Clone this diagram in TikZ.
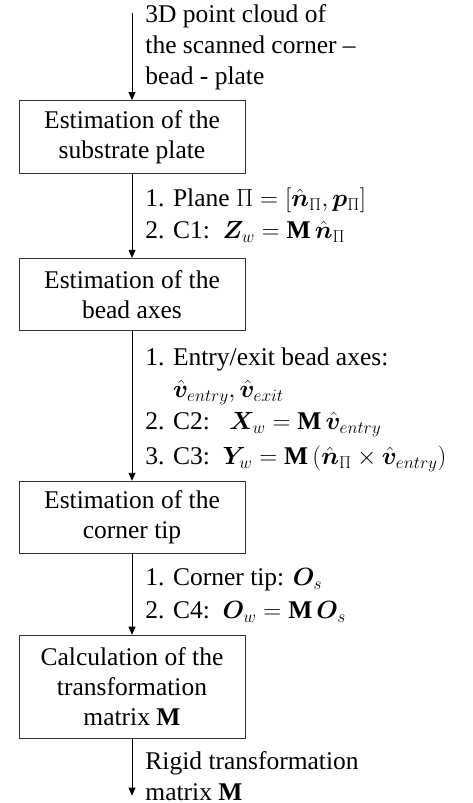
\documentclass[tikz,border=0pt]{standalone}
\usepackage{amsmath,amssymb,bm}
\usepackage{fontspec}
\setmainfont{Liberation Serif}
\usetikzlibrary{arrows.meta,positioning}

\begin{document}
\begin{tikzpicture}[
  x=1pt, y=1pt,
  stage/.style={draw=black!80, line width=0.9pt, align=center,
    font=\fontsize{25.5}{30}\selectfont, minimum width=226pt,
    minimum height=73pt, inner sep=0pt},
  note/.style={align=left, font=\fontsize{25.5}{31}\selectfont,
    anchor=west, inner sep=0pt, xshift=13pt},
  arrow/.style={-{Triangle[length=8pt, width=7pt]}, line width=0.9pt},
]
\useasboundingbox (0,0) rectangle (473,-803);
\coordinate (in) at (132,-13);
\node[stage, below=87pt of in] (plate) {Estimation of the\\ substrate plate};
\node[stage, below=84pt of plate, minimum height=72pt] (axes) {Estimation of the\\ bead axes};
\node[stage, below=150pt of axes, minimum height=72pt] (tip) {Estimation of the\\ corner tip};
\node[stage, below=81pt of tip, minimum height=103pt] (calc) {Calculation of the\\ transformation\\ matrix \textbf{M}};
\coordinate[below=57pt of calc] (out);
\draw[arrow] (in) -- node[note, yshift=9pt] (cloudlbl)
  {3D point cloud of\\ the scanned corner --\\ bead - plate} (plate);
\draw[arrow] (plate) -- node[note, yshift=1pt] (planelbl)
  {1. Plane $\Pi = [\hat{\bm{n}}_{\Pi}, \bm{p}_{\Pi}]$\\[1pt]
   2. C1:\ \ $\bm{Z}_w = \mathbf{M}\,\hat{\bm{n}}_{\Pi}$} (axes);
\draw[arrow] (axes) -- node[note, yshift=-4pt] (axeslbl)
  {1. Entry/exit bead axes:\\[1pt]
   \phantom{1. }$\hat{\bm{v}}_{entry}, \hat{\bm{v}}_{exit}$\\[1pt]
   2. C2:\ \ \ $\bm{X}_w = \mathbf{M}\,\hat{\bm{v}}_{entry}$\\[4pt]
   3. C3:\ \ $\bm{Y}_w = \mathbf{M}\left(\hat{\bm{n}}_{\Pi}\times\hat{\bm{v}}_{entry}\right)$} (tip);
\draw[arrow] (tip) -- node[note, yshift=-1pt] (tiplbl)
  {1. Corner tip: $\bm{O}_s$\\[2pt]
   2. C4:\ \ $\bm{O}_w = \mathbf{M}\,\bm{O}_s$} (calc);
\draw[arrow] (calc) -- node[note, yshift=-9pt] (outlbl)
  {Rigid transformation\\ matrix \textbf{M}} (out);
\end{tikzpicture}
\end{document}
